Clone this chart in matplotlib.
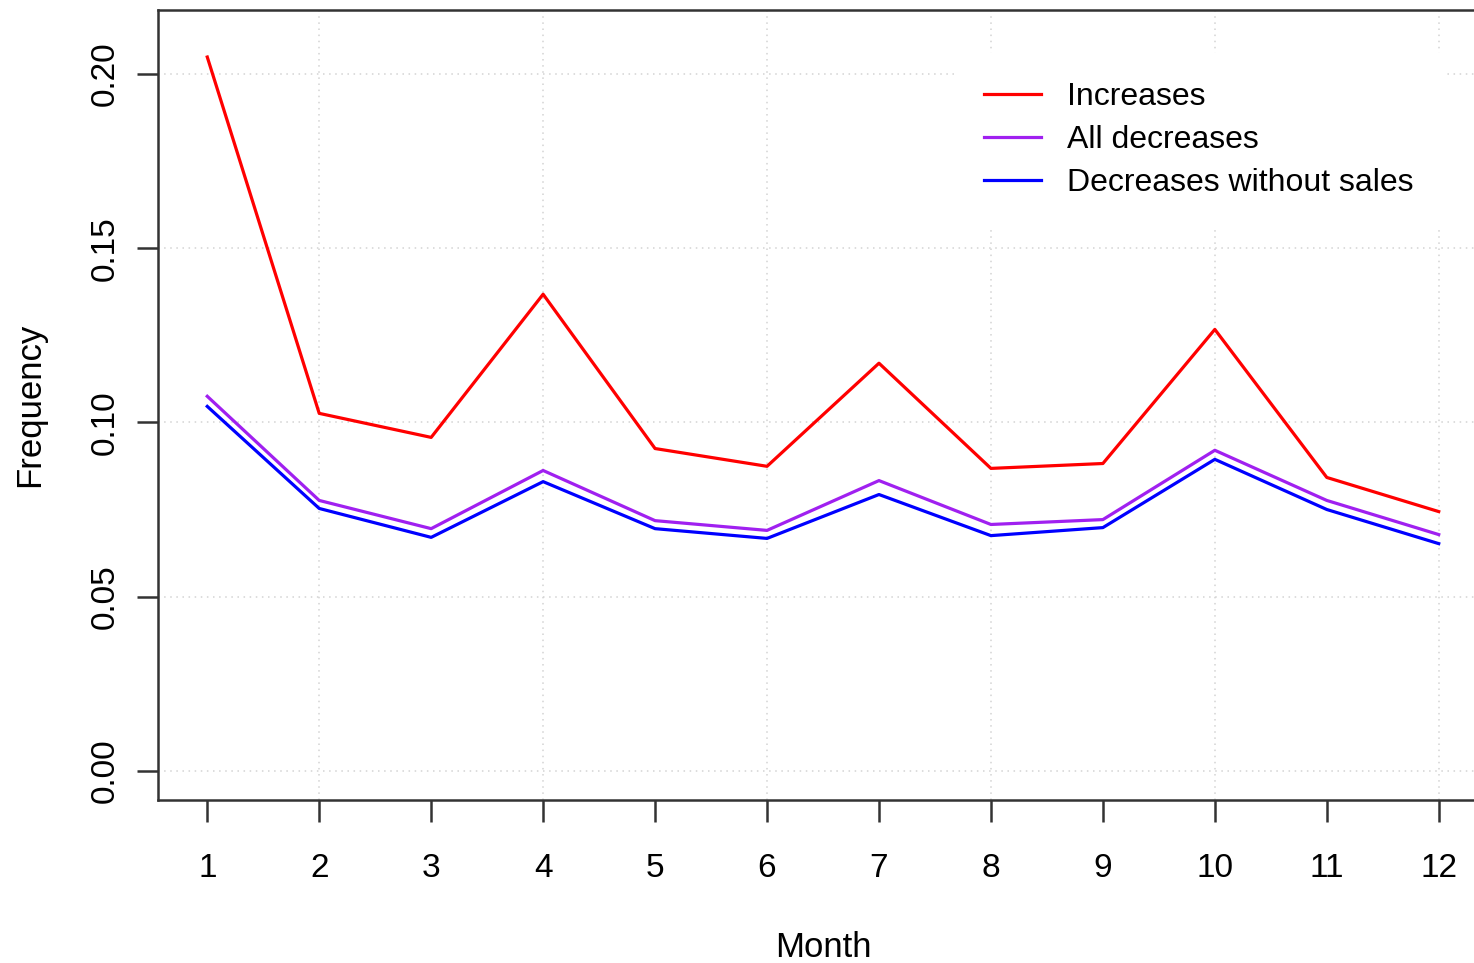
import matplotlib
matplotlib.use("Agg")
import matplotlib.pyplot as plt
import numpy as np

# ---------------------------------------------------------------------------
# Data
# ---------------------------------------------------------------------------
months = [1, 2, 3, 4, 5, 6, 7, 8, 9, 10, 11, 12]
increases = [0.2049, 0.1026, 0.0957, 0.1368, 0.0925, 0.0874,
             0.1170, 0.0868, 0.0882, 0.1267, 0.0842, 0.0744]
all_decreases = [0.1075, 0.0776, 0.0695, 0.0862, 0.0718, 0.0690,
                 0.0833, 0.0707, 0.0721, 0.0920, 0.0776, 0.0678]
decreases_no_sales = [0.1046, 0.0753, 0.0670, 0.0830, 0.0695, 0.0667,
                      0.0793, 0.0675, 0.0698, 0.0894, 0.0750, 0.0652]
y_ticks = [0.00, 0.05, 0.10, 0.15, 0.20]

plt.rcParams["font.family"] = ["Liberation Sans", "DejaVu Sans"]

W, H = 1474, 963
fig = plt.figure(figsize=(W / 100, H / 100), dpi=100)
ax = fig.add_axes([158 / W, (H - 800) / H, (1488 - 158) / W, (800 - 10) / H])

# grid: horizontal at y ticks, vertical at even months
for y in y_ticks:
    ax.axhline(y, color="#d3d3d3", lw=1.1, ls=(0, (1, 3)), zorder=0)
for m in months[1::2]:
    ax.axvline(m, color="#d3d3d3", lw=1.1, ls=(0, (1, 3)), zorder=0)

ax.plot(months, increases, color="#ff0000", lw=2.3, label="Increases")
ax.plot(months, all_decreases, color="#a020f0", lw=2.3, label="All decreases")
ax.plot(months, decreases_no_sales, color="#0000ff", lw=2.3,
        label="Decreases without sales")

ax.set_xlim(0.56, 12.44)
ax.set_ylim(-0.0084, 0.2184)
ax.set_xticks(months)
ax.set_yticks(y_ticks)
ax.set_yticklabels([f"{v:.2f}" for v in y_ticks], rotation=90, va="center")

for s in ax.spines.values():
    s.set_color("#333333")
    s.set_linewidth(1.8)

ax.tick_params(axis="x", length=16, width=1.8, color="#333333",
               labelsize=24, pad=22)
ax.tick_params(axis="y", length=15, width=1.8, color="#333333",
               labelsize=24, pad=12)

ax.set_xlabel("Month", fontsize=25, labelpad=34)
ax.set_ylabel("Frequency", fontsize=25, labelpad=31)

ax.legend(loc="upper left", bbox_to_anchor=(939 / W, 1 - 37 / H),
          bbox_transform=fig.transFigure,
          fontsize=23, frameon=True, fancybox=False, edgecolor="white",
          facecolor="white", framealpha=1.0, handlelength=1.8,
          handletextpad=0.8, labelspacing=0.41, borderpad=0.9)

fig.savefig("out.png", dpi=100)
